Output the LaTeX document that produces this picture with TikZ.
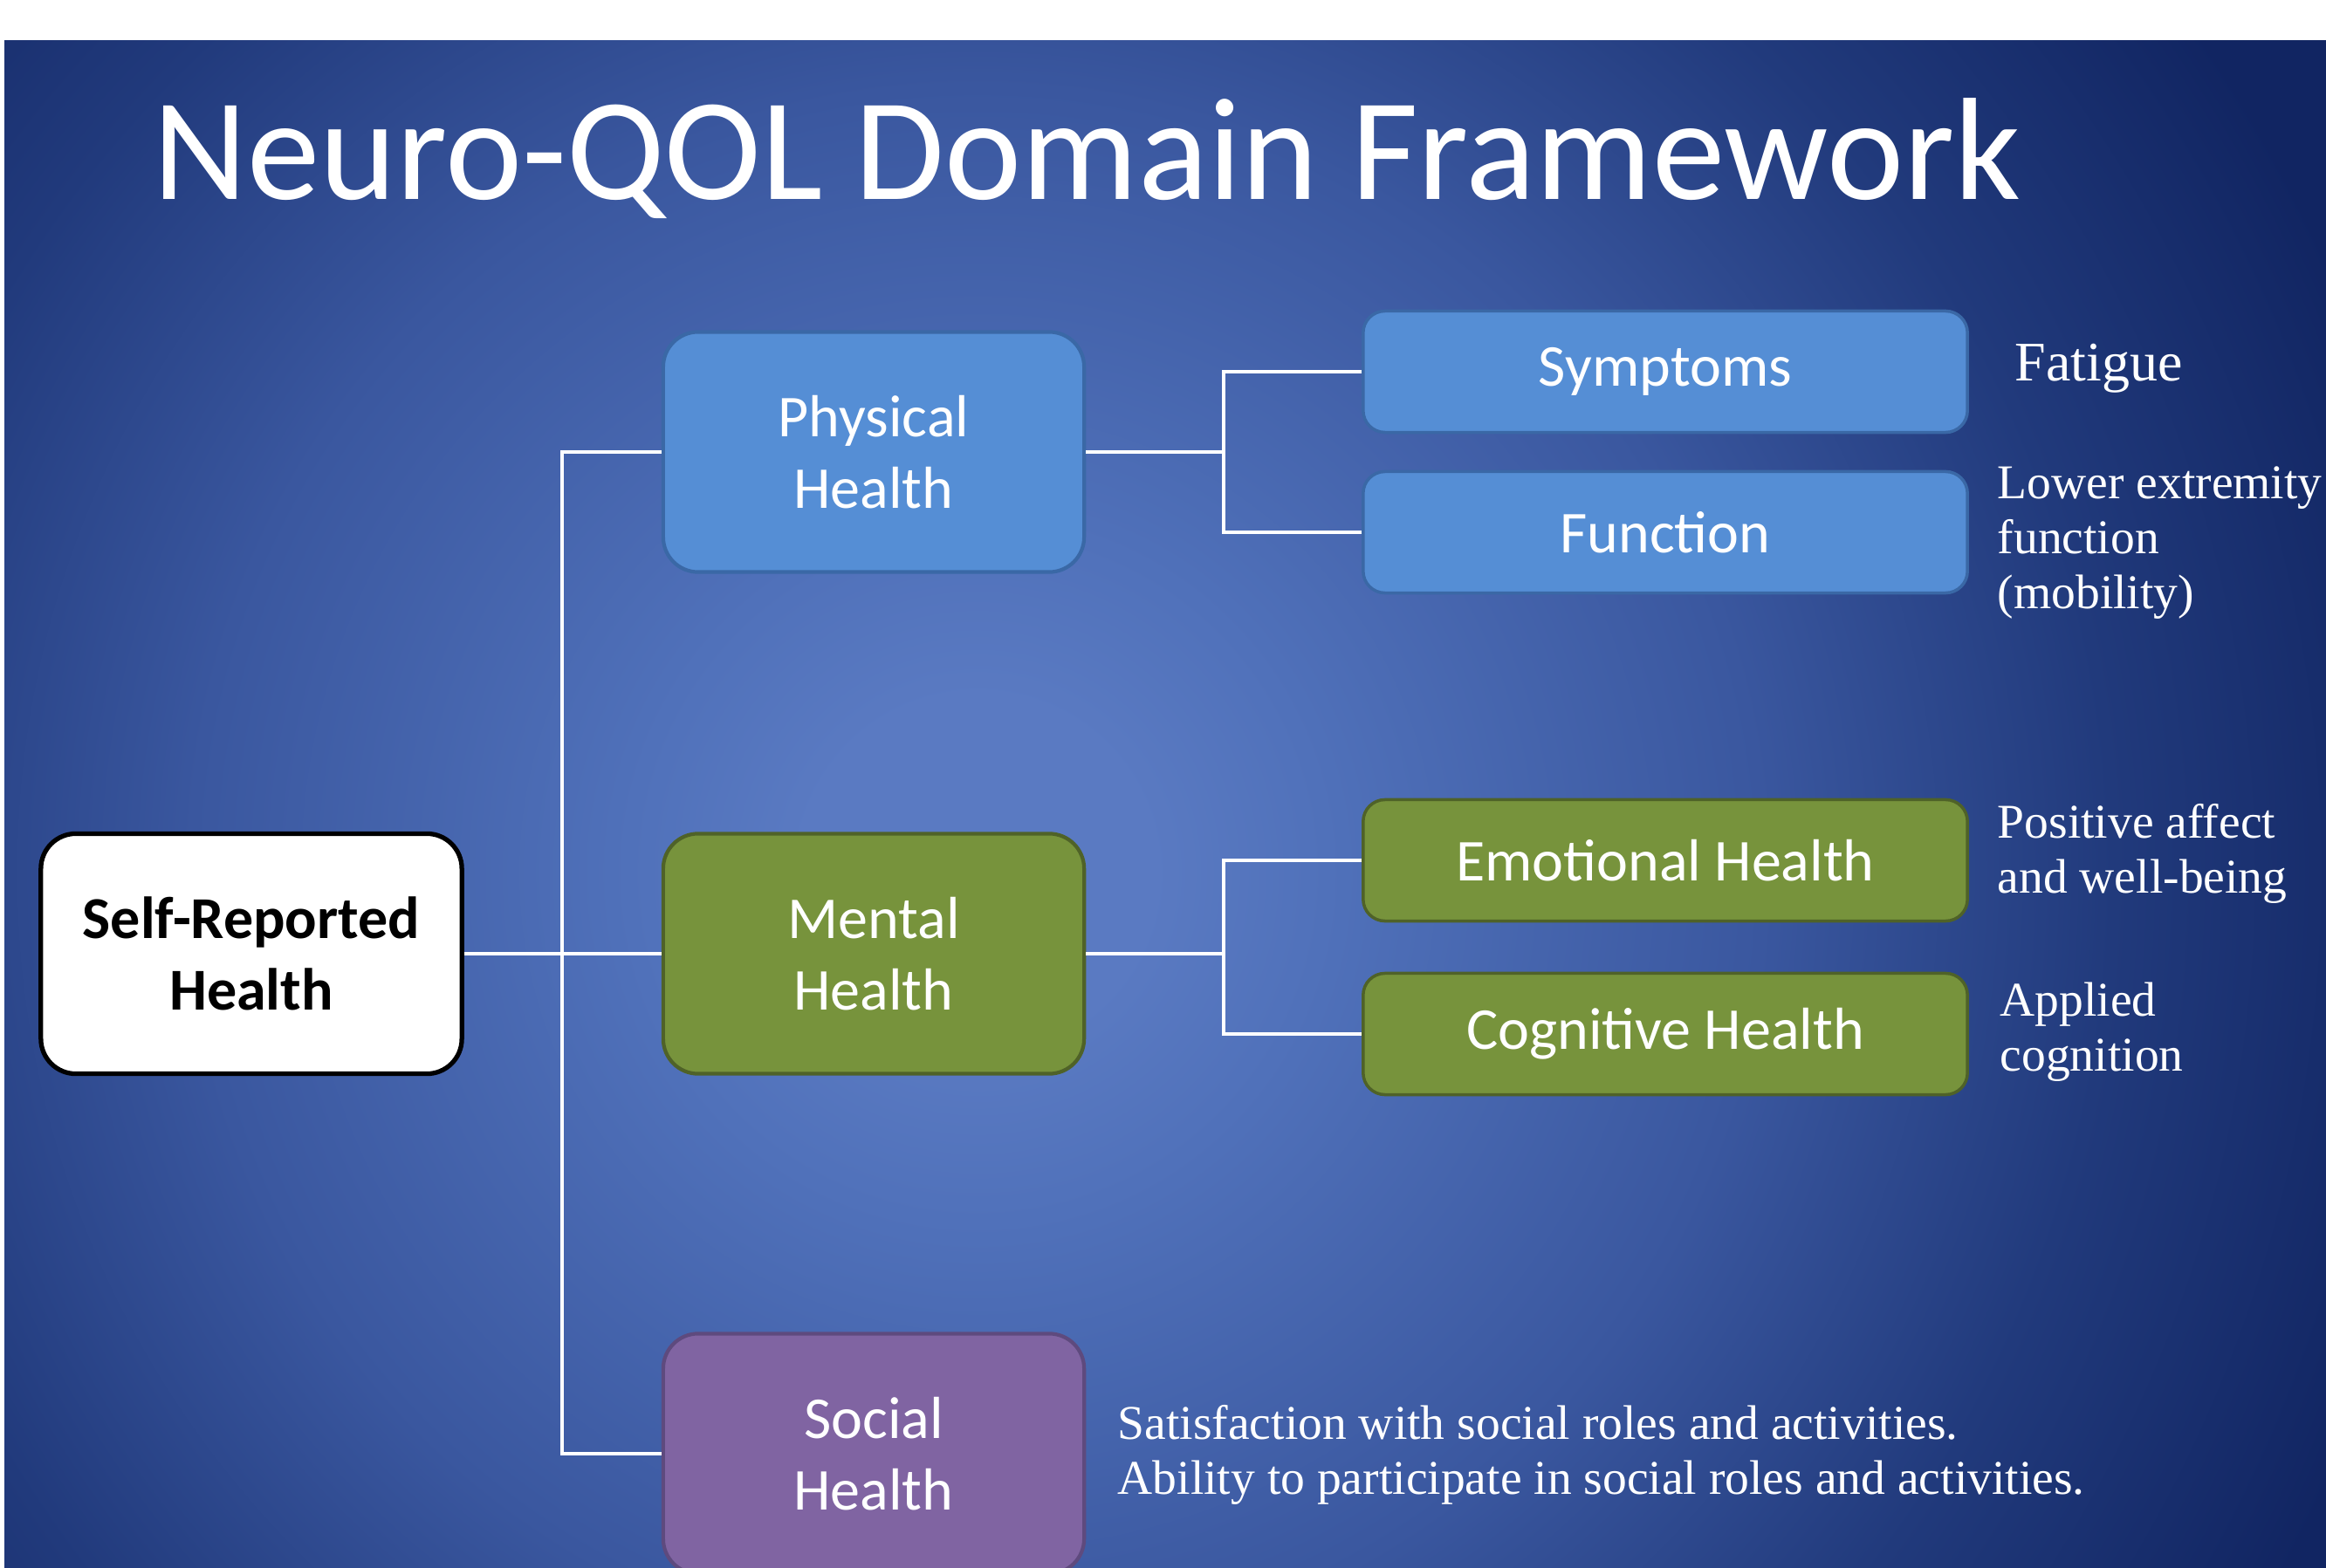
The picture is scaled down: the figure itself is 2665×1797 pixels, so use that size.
\documentclass[tikz,border=0pt]{standalone}
\usepackage{fontspec}
\setmainfont{Carlito}
\newfontfamily\serifT{Liberation Serif}
\definecolor{bgdark}{HTML}{112562}
\definecolor{bgdeep}{HTML}{213A7C}
\definecolor{bgmid}{HTML}{3A579F}
\definecolor{bgsoft}{HTML}{5071BA}
\definecolor{bglight}{HTML}{5A7AC2}
\definecolor{physfill}{HTML}{558ED5}
\definecolor{physdraw}{HTML}{3A68A6}
\definecolor{mentfill}{HTML}{77933C}
\definecolor{mentdraw}{HTML}{4F6228}
\definecolor{socfill}{HTML}{8064A2}
\definecolor{socdraw}{HTML}{5E4A7E}
\pgfdeclareradialshading{bgglow}{\pgfpoint{0bp}{0bp}}{color(0bp)=(bglight); color(2bp)=(bglight); color(4bp)=(bgsoft); color(9bp)=(bgmid); color(13bp)=(bgdeep); color(17bp)=(bgdark); color(50bp)=(bgdark)}
\tikzset{
  boxtext/.style={font=\fontsize{19.35}{23.3}\selectfont, text=white, align=center},
  bigbox/.style={boxtext, rounded corners=0.4cm, minimum width=4.82cm, minimum height=2.75cm, line width=1.2pt, inner sep=0pt},
  smallbox/.style={boxtext, rounded corners=0.25cm, minimum width=6.92cm, minimum height=1.39cm, line width=1pt, inner sep=0pt},
  conn/.style={draw=white, line width=1.1pt},
  side/.style={anchor=base west, inner sep=0pt, text=white, align=left, font=\serifT\fontsize{15.8}{17.9}\selectfont},
}
\begin{document}
\begin{tikzpicture}[x=0.01cm, y=-0.01cm]
\useasboundingbox (0,0) rectangle (2665,1797);
\fill[white] (0,0) rectangle (2665,1797);
\begin{scope}
  \clip (5,47) rectangle (2665,1797);
  \fill[bgdark] (5,47) rectangle (2665,1797);
  \shade[shading=bgglow] (1120,1000) circle (25cm);
\end{scope}

\node[anchor=base west, inner sep=0pt, text=white, font=\fontsize{47.5}{57}\selectfont] (title) at (175,229) {Neuro-QOL Domain Framework};

\node[bigbox, fill=white, draw=black, line width=1.5pt, text=black, font=\bfseries\fontsize{19.35}{23.3}\selectfont] (srh) at (288,1093) {Self-Reported\\Health};
\node[bigbox, fill=physfill, draw=physdraw] (phys) at (1001,518) {Physical\\Health};
\node[bigbox, fill=mentfill, draw=mentdraw] (ment) at (1001,1093) {Mental\\Health};
\node[bigbox, fill=socfill, draw=socdraw] (soc) at (1001,1666) {Social\\Health};

\node[smallbox, fill=physfill, draw=physdraw] (symp) at (1908,426) {Symptoms};
\node[smallbox, fill=physfill, draw=physdraw] (func) at (1908,610) {Function};
\node[smallbox, fill=mentfill, draw=mentdraw] (emo) at (1908,986) {Emotional Health};
\node[smallbox, fill=mentfill, draw=mentdraw] (cog) at (1908,1185) {Cognitive Health};

\coordinate (trunk) at (644,0);
\coordinate (br) at (1402,0);

\draw[conn] (srh.east) -- (ment.west);
\draw[conn] (phys.west) -- (phys.west -| trunk) |- (soc.west);
\draw[conn] (phys.east) -- (phys.east -| br);
\draw[conn] (symp.west) -- (symp.west -| br) |- (func.west);
\draw[conn] (ment.east) -- (ment.east -| br);
\draw[conn] (emo.west) -- (emo.west -| br) |- (cog.west);

\node[side, font=\serifT\fontsize{18.2}{21}\selectfont] (fat) at (2308,437) {Fatigue};
\node[side] (lef) at (2288,697) {Lower extremity\\function\\(mobility)};
\node[side] (paw) at (2288,1023) {Positive affect\\and well-being};
\node[side] (appc) at (2291,1227) {Applied\\cognition};
\node[side] (socd) at (1280,1712) {Satisfaction with social roles and activities.\\Ability to participate in social roles and activities.};
\end{tikzpicture}
\end{document}
